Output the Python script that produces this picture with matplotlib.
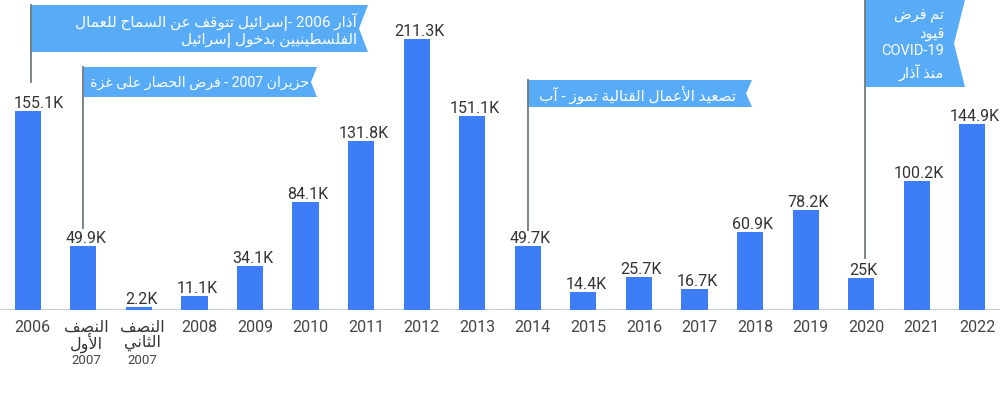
import matplotlib
matplotlib.use("Agg")
import matplotlib.pyplot as plt
from matplotlib.patches import Polygon
from matplotlib.lines import Line2D
import matplotlib.transforms as mtransforms

# ---------------- data ----------------
categories = ["2006", "النصف\nالأول\n2007", "النصف\nالثاني\n2007", "2008", "2009", "2010",
              "2011", "2012", "2013", "2014", "2015", "2016", "2017", "2018", "2019",
              "2020", "2021", "2022"]
values = [155.1, 49.9, 2.2, 11.1, 34.1, 84.1, 131.8, 211.3, 151.1, 49.7, 14.4, 25.7,
          16.7, 60.9, 78.2, 25.0, 100.2, 144.9]
value_labels = ["155.1K", "49.9K", "2.2K", "11.1K", "34.1K", "84.1K", "131.8K", "211.3K",
                "151.1K", "49.7K", "14.4K", "25.7K", "16.7K", "60.9K", "78.2K", "25K",
                "100.2K", "144.9K"]
annotation_texts = [
    "آذار 2006 -إسرائيل تتوقف عن السماح للعمال\nالفلسطينيين بدخول إسرائيل",
    "حزيران 2007 - فرض الحصار على غزة",
    "تصعيد الأعمال القتالية تموز - آب",
    "تم فرض\nقيود\nCOVID-19\nمنذ آذار",
]
annotation_bars = [0, 1, 9, 15]

# ---------------- minimal Arabic shaping + bidi ----------------
_FORMS = {
    '\u0621': (0xFE80, None, None, None),
    '\u0622': (0xFE81, 0xFE82, None, None),
    '\u0623': (0xFE83, 0xFE84, None, None),
    '\u0624': (0xFE85, 0xFE86, None, None),
    '\u0625': (0xFE87, 0xFE88, None, None),
    '\u0626': (0xFE89, 0xFE8A, 0xFE8B, 0xFE8C),
    '\u0627': (0xFE8D, 0xFE8E, None, None),
    '\u0628': (0xFE8F, 0xFE90, 0xFE91, 0xFE92),
    '\u0629': (0xFE93, 0xFE94, None, None),
    '\u062A': (0xFE95, 0xFE96, 0xFE97, 0xFE98),
    '\u062B': (0xFE99, 0xFE9A, 0xFE9B, 0xFE9C),
    '\u062C': (0xFE9D, 0xFE9E, 0xFE9F, 0xFEA0),
    '\u062D': (0xFEA1, 0xFEA2, 0xFEA3, 0xFEA4),
    '\u062E': (0xFEA5, 0xFEA6, 0xFEA7, 0xFEA8),
    '\u062F': (0xFEA9, 0xFEAA, None, None),
    '\u0630': (0xFEAB, 0xFEAC, None, None),
    '\u0631': (0xFEAD, 0xFEAE, None, None),
    '\u0632': (0xFEAF, 0xFEB0, None, None),
    '\u0633': (0xFEB1, 0xFEB2, 0xFEB3, 0xFEB4),
    '\u0634': (0xFEB5, 0xFEB6, 0xFEB7, 0xFEB8),
    '\u0635': (0xFEB9, 0xFEBA, 0xFEBB, 0xFEBC),
    '\u0636': (0xFEBD, 0xFEBE, 0xFEBF, 0xFEC0),
    '\u0637': (0xFEC1, 0xFEC2, 0xFEC3, 0xFEC4),
    '\u0638': (0xFEC5, 0xFEC6, 0xFEC7, 0xFEC8),
    '\u0639': (0xFEC9, 0xFECA, 0xFECB, 0xFECC),
    '\u063A': (0xFECD, 0xFECE, 0xFECF, 0xFED0),
    '\u0641': (0xFED1, 0xFED2, 0xFED3, 0xFED4),
    '\u0642': (0xFED5, 0xFED6, 0xFED7, 0xFED8),
    '\u0643': (0xFED9, 0xFEDA, 0xFEDB, 0xFEDC),
    '\u0644': (0xFEDD, 0xFEDE, 0xFEDF, 0xFEE0),
    '\u0645': (0xFEE1, 0xFEE2, 0xFEE3, 0xFEE4),
    '\u0646': (0xFEE5, 0xFEE6, 0xFEE7, 0xFEE8),
    '\u0647': (0xFEE9, 0xFEEA, 0xFEEB, 0xFEEC),
    '\u0648': (0xFEED, 0xFEEE, None, None),
    '\u0649': (0xFEEF, 0xFEF0, None, None),
    '\u064A': (0xFEF1, 0xFEF2, 0xFEF3, 0xFEF4),
}
_LAMALEF = {'\u0622': (0xFEF5, 0xFEF6), '\u0623': (0xFEF7, 0xFEF8),
            '\u0625': (0xFEF9, 0xFEFA), '\u0627': (0xFEFB, 0xFEFC)}


def _is_ar(c):
    return c in _FORMS or 0xFE70 <= ord(c) <= 0xFEFF


def _shape(line):
    units = []
    i = 0
    while i < len(line):
        c = line[i]
        if c == '\u0644' and i + 1 < len(line) and line[i + 1] in _LAMALEF:
            units.append(('LA', line[i + 1]))
            i += 2
        else:
            units.append(('C', c))
            i += 1

    def dual(u):
        return u[0] == 'C' and u[1] in _FORMS and _FORMS[u[1]][2] is not None

    def joins_back(u):
        if u[0] == 'LA':
            return True
        return u[1] in _FORMS and _FORMS[u[1]][1] is not None

    out = []
    for k, u in enumerate(units):
        prev = units[k - 1] if k > 0 else None
        nxt = units[k + 1] if k + 1 < len(units) else None
        jp = prev is not None and dual(prev) and joins_back(u)
        if u[0] == 'LA':
            iso, fin = _LAMALEF[u[1]]
            out.append(chr(fin if jp else iso))
            continue
        c = u[1]
        if c not in _FORMS:
            out.append(c)
            continue
        f = _FORMS[c]
        jn = dual(u) and nxt is not None and joins_back(nxt)
        if jp and jn:
            out.append(chr(f[3]))
        elif jp:
            out.append(chr(f[1]))
        elif jn:
            out.append(chr(f[2]))
        else:
            out.append(chr(f[0]))
    return ''.join(out)


def _bidi(line):
    def cls(c):
        if _is_ar(c):
            return 'R'
        if c.isdigit() or c.isalpha():
            return 'L'
        return 'N'
    cl = [cls(c) for c in line]
    n = len(line)
    res = cl[:]
    i = 0
    while i < n:
        if cl[i] == 'N':
            j = i
            while j < n and cl[j] == 'N':
                j += 1
            left = cl[i - 1] if i > 0 else 'R'
            right = cl[j] if j < n else 'R'
            d = 'L' if (left == 'L' and right == 'L') else 'R'
            for k in range(i, j):
                res[k] = d
            i = j
        else:
            i += 1
    runs = []
    for c, d in zip(line, res):
        if runs and runs[-1][0] == d:
            runs[-1][1].append(c)
        else:
            runs.append([d, [c]])
    out = []
    for d, chars in reversed(runs):
        if d == 'R':
            mirrored = [{'(': ')', ')': '('}.get(c, c) for c in reversed(chars)]
            out.append(''.join(mirrored))
        else:
            out.append(''.join(chars))
    return ''.join(out)


def ar(text):
    return '\n'.join(_bidi(_shape(l)) for l in text.split('\n'))


# ---------------- figure ----------------
W, H = 1000, 394
fig = plt.figure(figsize=(W / 100, H / 100), dpi=100)
fig.patch.set_facecolor("white")
FONT = ["Roboto", "DejaVu Sans"]
BAR = "#3d7ef8"
FLAG = "#57abf7"
LINEC = "#6f7b80"

base_px = 310
top_val = base_px / 1.283
ax = fig.add_axes([0, 1 - base_px / H, 1, base_px / H])
ax.set_xlim(-0.5, len(values) - 0.5)
ax.set_ylim(0, top_val)
ax.axis("off")
ax.axhline(0, color="#c8cdd0", lw=1.5, zorder=1)

x = list(range(len(values)))
ax.bar(x, values, width=0.47, color=BAR, zorder=2)

# value labels (kept inside the chart area on the left)
fig.canvas.draw()
renderer = fig.canvas.get_renderer()
for xi, v, lab in zip(x, values, value_labels):
    t = ax.annotate(lab, (xi, v), xytext=(2.5, 3), textcoords="offset pixels",
                    ha="center", va="baseline", fontsize=11.5, color="#333333",
                    family=FONT)
    bb = t.get_window_extent(renderer)
    if bb.x0 < 14:
        t.set_position((2.5 + 14 - bb.x0, 3))

# x labels
blend = mtransforms.blended_transform_factory(ax.transData, fig.transFigure)
blend = mtransforms.offset_copy(blend, fig=fig, x=5, y=0, units="dots")
for xi, cat in zip(x, categories):
    lines = cat.split("\n")
    if len(lines) == 1:
        ax.text(xi, 1 - 328 / H, cat, transform=blend, ha="center", va="center",
                fontsize=11.5, color="#444444", family=FONT)
    else:
        ax.text(xi - 0.03, 1 - 327 / H, ar(lines[0]), transform=blend, ha="center",
                va="center", fontsize=11.5, color="#333333", family=FONT)
        ax.text(xi - 0.03, 1 - 343 / H, ar(lines[1]), transform=blend, ha="center",
                va="center", fontsize=11.5, color="#333333", family=FONT)
        ax.text(xi - 0.03, 1 - 360 / H, lines[2], transform=blend, ha="center",
                va="center", fontsize=9.5, color="#444444", family=FONT)

# ---------------- annotation flags ----------------
def fpt(px, py):
    return (px / W, 1 - py / H)

# (right_px, top_px, bottom_px, notch_px, line_bottom_px, fontsize, x_offset,
#  text_gap, linespacing)
flag_styles = [
    (368, 5, 52, 9, 82, 11.0, 0.05, 2, 1.2),
    (317, 67, 97, 6, 228, 10.2, 0.0, 2, 1.2),
    (752, 80, 107, 6, 230, 11.0, 0.0, 10, 1.2),
    (965, 0, 87, 11, 258, 10.5, 0.07, 10, 1.35),
]
for bi, txt, st in zip(annotation_bars, annotation_texts, flag_styles):
    right, top, bot, notch, lbot, fs, xo, gap, ls = st
    lx = fig.transFigure.inverted().transform(
        ax.transData.transform((bi + xo, 0)))[0] * W
    mid = (top + bot) / 2
    poly = Polygon([fpt(lx, top), fpt(right, top), fpt(right - notch, mid),
                    fpt(right, bot), fpt(lx, bot)], closed=True,
                   transform=fig.transFigure, facecolor=FLAG, edgecolor="none",
                   zorder=3)
    fig.patches.append(poly)
    fig.lines.append(Line2D([lx / W, lx / W], [1 - top / H, 1 - lbot / H],
                            transform=fig.transFigure, color=LINEC, lw=1.3,
                            zorder=4))
    fig.text((right - notch - gap) / W, 1 - (mid + 1) / H, ar(txt), ha="right",
             va="center", fontsize=fs, color="white", family=FONT,
             linespacing=ls, multialignment="right", zorder=5)

fig.savefig("out.png", dpi=100, facecolor="white")
